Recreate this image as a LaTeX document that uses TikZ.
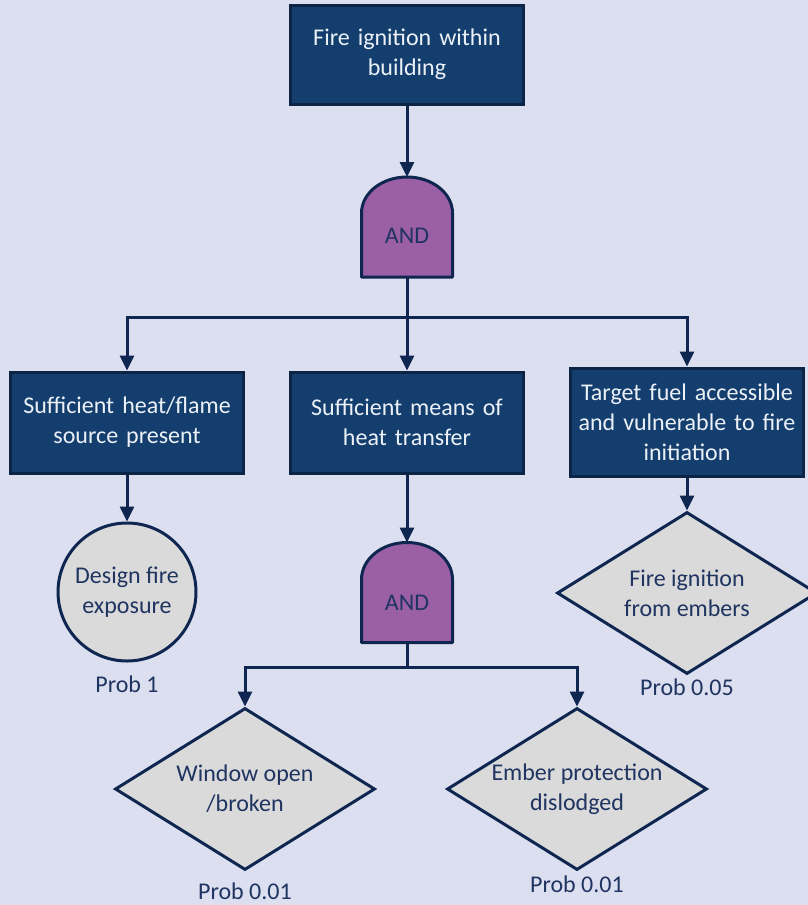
\documentclass[tikz,border=0pt]{standalone}
\usepackage{fontspec}
\setmainfont{Carlito}
\usetikzlibrary{shapes.geometric,arrows.meta,calc}
\definecolor{bgc}{RGB}{220,223,240}
\definecolor{boxfill}{RGB}{20,62,110}
\definecolor{boxline}{RGB}{12,36,70}
\definecolor{gatefill}{RGB}{155,95,165}
\definecolor{linec}{RGB}{15,38,80}
\definecolor{grayfill}{RGB}{218,218,218}
\definecolor{navytext}{RGB}{31,52,96}
\definecolor{whitetext}{RGB}{236,241,248}
\tikzset{
  event/.style={draw=boxline, line width=3pt, fill=boxfill, text=whitetext,
    minimum width=233pt, text width=225pt, align=center, inner sep=0pt,
    font=\fontsize{24}{30}\selectfont},
  gatebox/.style={minimum width=91pt, minimum height=100pt, inner sep=0pt, outer sep=0pt,
    text=navytext, font=\fontsize{24}{30}\selectfont},
  gateshape/.style={draw=linec, line width=3pt, fill=gatefill, line join=round},
  basic/.style={draw=linec, line width=3pt, fill=grayfill, circle, minimum size=138pt,
    inner sep=0pt, text=navytext, align=center, font=\fontsize{24}{30}\selectfont},
  undev/.style={draw=linec, line width=3pt, fill=grayfill, diamond, minimum width=260pt,
    minimum height=162pt, inner sep=0pt},
  dtext/.style={text=navytext, align=center, font=\fontsize{24}{30}\selectfont},
  prob/.style={text=navytext, font=\fontsize{24}{30}\selectfont, inner sep=0pt},
  conn/.style={draw=linec, line width=3pt, -{Triangle[length=15pt,width=14pt]}},
  wire/.style={draw=linec, line width=3pt},
}
\begin{document}
\begin{tikzpicture}[x=1pt,y=-1pt]
\clip (0,0) rectangle (808,905);
\fill[bgc] (0,0) rectangle (808,905);
% top event
\node[event, minimum height=99pt] (top) at (407,54.5) {Fire ignition within\\building};
% gate 1
\node[gatebox] (g1) at (407,227) {};
\path[gateshape] (g1.south west) -- (g1.south east) -- ($(g1.north east)+(0,36)$)
  arc[start angle=0, end angle=-180, x radius=45.5, y radius=36] -- cycle;
\node[gatebox] at ($(g1.center)+(0,9)$) {AND};
% second row
\node[event, minimum height=101pt] (b1) at (127,422.5) {Sufficient heat/flame\\source present};
\node[event, minimum height=101pt] (b2) at (407,422.5) {Sufficient means of\\heat transfer};
\node[event, minimum height=108pt] (b3) at (687,422) {Target fuel accessible\\and vulnerable to fire\\initiation};
\coordinate (j1) at (407,317);
\draw[conn] (top.south) -- (g1.north);
\draw[wire] (g1.south) -- (j1);
\draw[conn] (j1) -| (b1.north);
\draw[conn] (j1) -| (b3.north);
\draw[conn] (j1) -- (b2.north);
% left branch
\node[basic] (c1) at (127,592) {Design fire\\exposure};
\node[prob] (p1) at (127,684.5) {Prob 1};
\draw[conn] (b1.south) -- (c1.north);
% middle branch
\node[gatebox] (g2) at (407,592.5) {};
\path[gateshape] (g2.south west) -- (g2.south east) -- ($(g2.north east)+(0,37)$)
  arc[start angle=0, end angle=-180, x radius=45.5, y radius=37] -- cycle;
\node[gatebox] at ($(g2.center)+(0,10)$) {AND};
\draw[conn] (b2.south) -- (g2.north);
\coordinate (j2) at (407,667);
\draw[wire] (g2.south) -- (j2);
\node[undev] (d1) at (245,789) {};
\node[dtext] at (d1.center) {Window open\\/broken};
\node[undev] (d2) at (577,789) {};
\node[dtext] at (d2.center) {Ember protection\\dislodged};
\draw[conn] (j2) -| (d1.north);
\draw[conn] (j2) -| (d2.north);
\node[prob] (p2) at (245,891.5) {Prob 0.01};
\node[prob] (p3) at (577,884.5) {Prob 0.01};
% right branch
\node[undev] (d3) at (687,593) {};
\node[dtext] at (d3.center) {Fire ignition\\from embers};
\draw[conn] (b3.south) -- (d3.north);
\node[prob] (p4) at (687,687.5) {Prob 0.05};
\end{tikzpicture}
\end{document}
